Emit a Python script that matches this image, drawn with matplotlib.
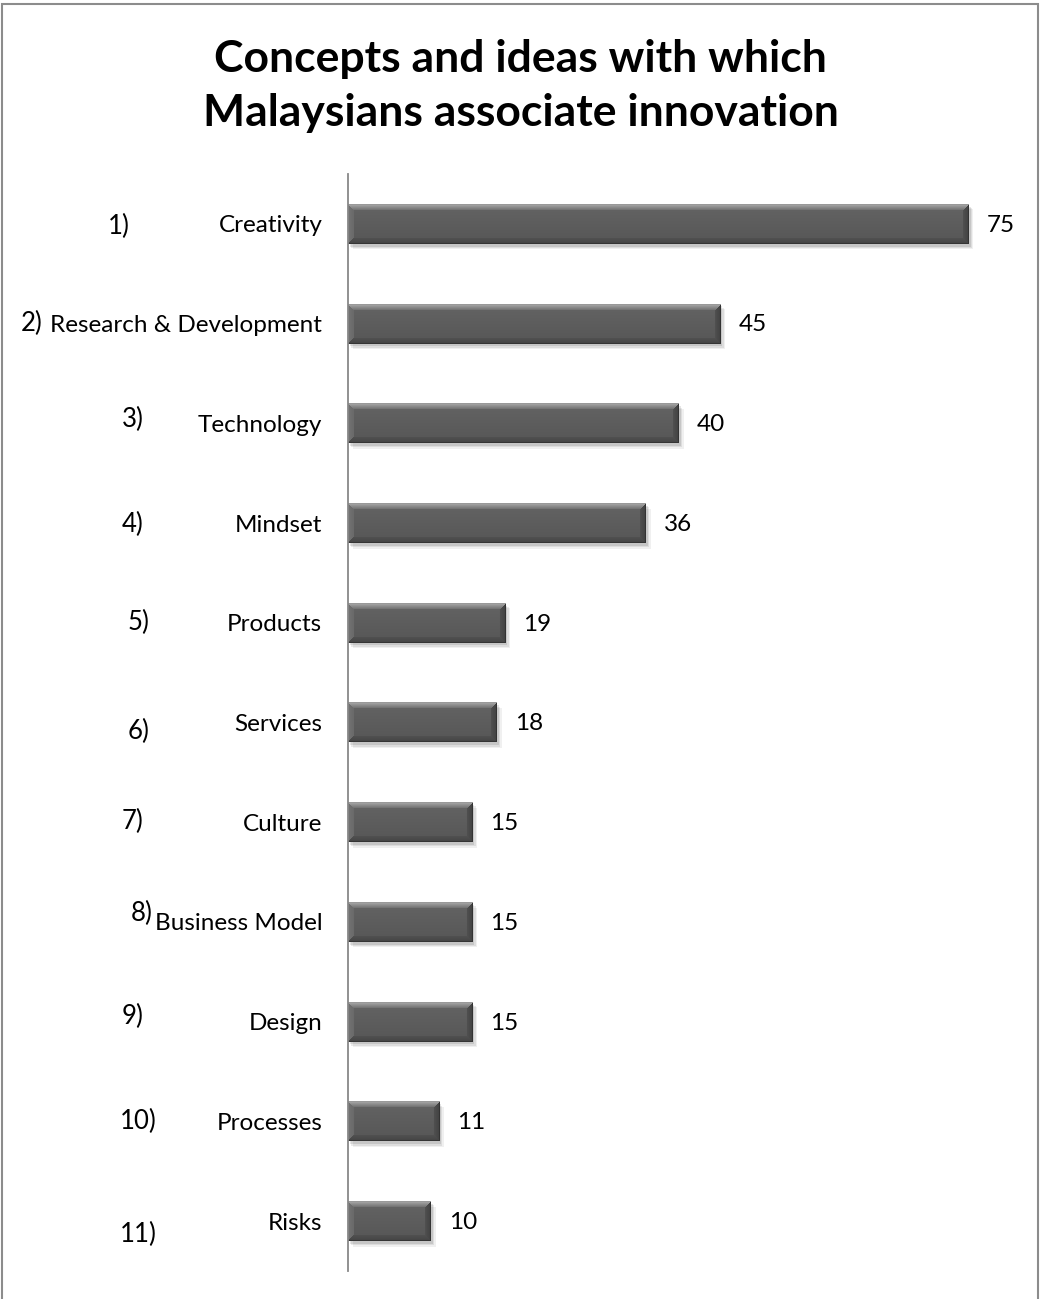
import numpy as np
import matplotlib
matplotlib.use("Agg")
import matplotlib.pyplot as plt
from matplotlib.patches import Rectangle
from matplotlib.transforms import blended_transform_factory
import matplotlib.patheffects as pe

# ---- data ----
categories = ["Creativity", "Research & Development", "Technology", "Mindset",
              "Products", "Services", "Culture", "Business Model", "Design",
              "Processes", "Risks"]
values = [75, 45, 40, 36, 19, 18, 15, 15, 15, 11, 10]
rank_labels = ["1)", "2)", "3)", "4)", "5)", "6)", "7)", "8)", "9)", "10)", "11)"]
title = "Concepts and ideas with which\nMalaysians associate innovation"

# ---- layout (pixels) ----
W, H = 1041, 1299
rank_x_px = [108, 21, 122, 122, 128, 128, 122, 131, 122, 120, 120]
rank_dy_px = [3, 0, -4, 1, 0, 9, -1, -8, -5, 0, 13]

FONT = "Lato"
plt.rcParams["font.family"] = [FONT, "DejaVu Sans"]

fig = plt.figure(figsize=(W / 100, H / 100), dpi=100)
ax_left, ax_right = 348, 1010
ax_top, ax_bot = 174, 1271
ax = fig.add_axes([ax_left / W, 1 - ax_bot / H, (ax_right - ax_left) / W, (ax_bot - ax_top) / H])

n = len(categories)
y = np.arange(n)
bar_h = 0.4
shadow = [pe.SimplePatchShadow(offset=(o, -o - 0.5), shadow_rgbFace="#000000", alpha=a)
          for o, a in [(3.5, 0.06), (2.5, 0.08), (1.5, 0.10)]]
bars = ax.barh(y, values, height=bar_h, color="#5a5a5a", zorder=2,
               path_effects=shadow + [pe.Normal()])
ax.set_xlim(0, 80)
ax.set_ylim(n - 0.5, -0.5)

# bevel images
px_per_x = (ax_right - ax_left) / 80.0
px_per_y = (ax_bot - ax_top) / n
def bevel_img(wpx, hpx, b=6):
    wpx = max(int(round(wpx)), 2 * b + 2)
    hpx = max(int(round(hpx)), 2 * b + 2)
    yy, xx = np.mgrid[0:hpx, 0:wpx].astype(float)
    dt = yy
    db = hpx - 1 - yy
    dl = xx
    dr = wpx - 1 - xx
    img = np.zeros((hpx, wpx, 3))
    t = yy / (hpx - 1)
    inter = (0.39 - 0.05 * t)
    img[...] = inter[..., None]
    d = np.stack([dt, db, dl, dr])
    which = np.argmin(d, axis=0)
    dmin = np.min(d, axis=0)
    band = dmin < b
    f = dmin / b
    top_c = 0.66 - 0.24 * f
    bot_c = 0.27 + 0.05 * f
    left_c = 0.45 - 0.04 * f
    right_c = 0.26 + 0.06 * f
    for k, c in enumerate([top_c, bot_c, left_c, right_c]):
        m = band & (which == k)
        img[m] = c[m][:, None]
    edge = dmin < 1
    img[edge] = np.clip(img[edge] - 0.06, 0, 1)
    return img

for rect, v in zip(bars.patches, values):
    x0 = rect.get_x()
    yc = rect.get_y() + rect.get_height() / 2
    img = bevel_img(v * px_per_x, bar_h * px_per_y)
    ax.imshow(img, extent=(x0, x0 + v, yc + bar_h / 2, yc - bar_h / 2),
              origin="upper", aspect="auto", zorder=3, interpolation="bilinear")
ax.set_xlim(0, 80)
ax.set_ylim(n - 0.5, -0.5)

# value labels
for yi, v in zip(y, values):
    ax.annotate(str(v), xy=(v, yi), xytext=(13, -1), textcoords="offset points",
                ha="left", va="center", fontsize=17.5, color="black")

# axes styling
for s in ["top", "right", "bottom"]:
    ax.spines[s].set_visible(False)
ax.spines["left"].set_color("#888888")
ax.spines["left"].set_linewidth(1.3)
ax.spines["left"].set_zorder(5)
ax.set_xticks([])
ax.set_yticks(y)
ax.set_yticklabels(categories, fontsize=17.5)
ax.tick_params(axis="y", length=0, pad=18.5)

# rank labels
tr = blended_transform_factory(fig.transFigure, ax.transData)
for yi, lab, xp, dy in zip(y, rank_labels, rank_x_px, rank_dy_px):
    ax.text(xp / W, yi + dy / px_per_y, lab, transform=tr, ha="left", va="center",
            fontsize=18.5, color="black", clip_on=False)

# title
fig.text(0.5, 1 - 86 / H, title, ha="center", va="center", fontsize=32,
         fontweight="bold", linespacing=1.42)

# outer border
fig.patches.append(Rectangle((2 / W, -0.05), 1036 / W, 1.05 - 4 / H, transform=fig.transFigure,
                             fill=False, edgecolor="#8c8c8c", linewidth=1.5))

fig.savefig("out.png", dpi=100)
